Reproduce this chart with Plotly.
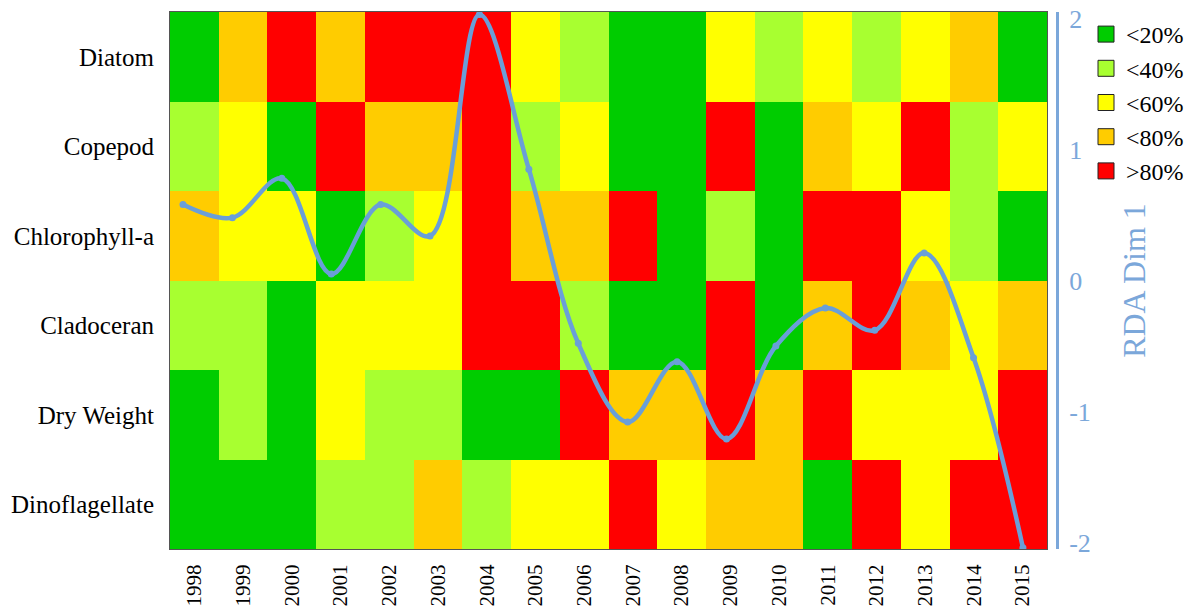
import plotly.graph_objects as go

# Years and variables shown in the grid
years = list(range(1998, 2016))
variables = ["Diatom", "Copepod", "Chlorophyll-a", "Cladoceran", "Dry Weight", "Dinoflagellate"]

# Percentile class legend labels and their colours
classes = ["<20%", "<40%", "<60%", "<80%", ">80%"]
class_colors = ["#00CC00", "#A8FF30", "#FFFF00", "#FFCC00", "#FF0000"]

# Percentile class (0..4 -> <20% .. >80%) per variable and year
diatom = [0, 3, 4, 3, 4, 4, 4, 2, 1, 0, 0, 2, 1, 2, 1, 2, 3, 0]
copepod = [1, 2, 0, 4, 3, 3, 4, 1, 2, 0, 0, 4, 0, 3, 2, 4, 1, 2]
chlorophyll = [3, 2, 2, 0, 1, 2, 4, 3, 3, 4, 0, 1, 0, 4, 4, 2, 1, 0]
cladoceran = [1, 1, 0, 2, 2, 2, 4, 4, 1, 0, 0, 4, 0, 3, 4, 3, 2, 3]
dry_weight = [0, 1, 0, 2, 1, 1, 0, 0, 4, 3, 3, 4, 3, 4, 2, 2, 2, 4]
dinoflagellate = [0, 0, 0, 1, 1, 3, 1, 2, 2, 4, 2, 3, 3, 0, 4, 2, 4, 4]

# First RDA axis score per year
rda_dim1 = [0.58, 0.48, 0.78, 0.05, 0.58, 0.34, 2.03, 0.85, -0.48, -1.08,
            -0.62, -1.21, -0.50, -0.21, -0.38, 0.21, -0.59, -2.04]

z = [diatom, copepod, chlorophyll, cladoceran, dry_weight, dinoflagellate]

serif = "Liberation Serif, Times New Roman, serif"
blue = "#6A9FD8"
axis_blue = "#7BA7DA"

# Discrete colour scale: one flat band per class
n = len(class_colors)
colorscale = []
for i, c in enumerate(class_colors):
    colorscale.append([i / n, c])
    colorscale.append([(i + 1) / n, c])

fig = go.Figure()

fig.add_trace(go.Heatmap(
    x=years, y=variables, z=z,
    colorscale=colorscale, zmin=-0.5, zmax=n - 0.5,
    showscale=False, xgap=0, ygap=0, hoverinfo="skip",
    showlegend=False,
))

# Legend swatches for the percentile classes
for label, color in zip(classes, class_colors):
    fig.add_trace(go.Scatter(
        x=[None], y=[None], mode="markers", name=label,
        marker=dict(symbol="square", size=16, color=color,
                    line=dict(color="#222222", width=1)),
        showlegend=True,
    ))

fig.add_trace(go.Scatter(
    x=years, y=rda_dim1, xaxis="x2", yaxis="y2",
    mode="lines+markers",
    line=dict(color=blue, width=4.5, shape="spline", smoothing=1),
    marker=dict(color=blue, size=7),
    showlegend=False, name="RDA Dim 1",
))

W, H = 1200, 610
ml, mr, mt, mb = 170, 140, 12, 61
plot_w = W - ml - mr
dom_right = 877 / plot_w

fig.update_layout(
    width=W, height=H,
    margin=dict(l=ml, r=mr, t=mt, b=mb, pad=0, autoexpand=False),
    paper_bgcolor="white", plot_bgcolor="white",
    font=dict(family=serif, color="black"),
    xaxis=dict(
        domain=[0, dom_right], range=[1997.5, 2015.5], automargin=False,
        tickmode="array", tickvals=years, ticktext=[str(y) for y in years],
        tickangle=-90, tickfont=dict(size=21, family=serif, color="black"),
        ticks="", ticklabelstandoff=6,
        showline=True, linecolor="#555555", linewidth=1, mirror=True,
        showgrid=False, zeroline=False,
    ),
    yaxis=dict(
        autorange="reversed", automargin=False,
        tickfont=dict(size=25, family=serif, color="black"),
        ticks="", ticklabelstandoff=10,
        showline=True, linecolor="#555555", linewidth=1, mirror=True,
        showgrid=False, zeroline=False,
    ),
    xaxis2=dict(
        overlaying="x", anchor="y2", range=[1997.737, 2015.487],
        visible=False, showgrid=False, zeroline=False,
    ),
    yaxis2=dict(
        overlaying="y", anchor="free", side="right", automargin=False,
        position=(1057 - ml) / plot_w,
        range=[-2.05, 2.05], tickvals=[-2, -1, 0, 1, 2],
        ticktext=["-2", "-1", "0", "1", "2"],
        tickfont=dict(size=26, family=serif, color=axis_blue),
        ticks="", ticklabelstandoff=5,
        showline=True, linecolor=axis_blue, linewidth=3,
        showgrid=False, zeroline=False,
        title=dict(text="RDA Dim 1", font=dict(size=32, family=serif, color=axis_blue),
                   standoff=32),
    ),
    legend=dict(
        x=(1086 - ml) / plot_w, xanchor="left", y=1.0, yanchor="top",
        font=dict(size=24, family=serif, color="black"),
        bgcolor="rgba(0,0,0,0)", borderwidth=0,
        itemsizing="trace", tracegroupgap=0,
    ),
)

fig.write_html("out.html")
